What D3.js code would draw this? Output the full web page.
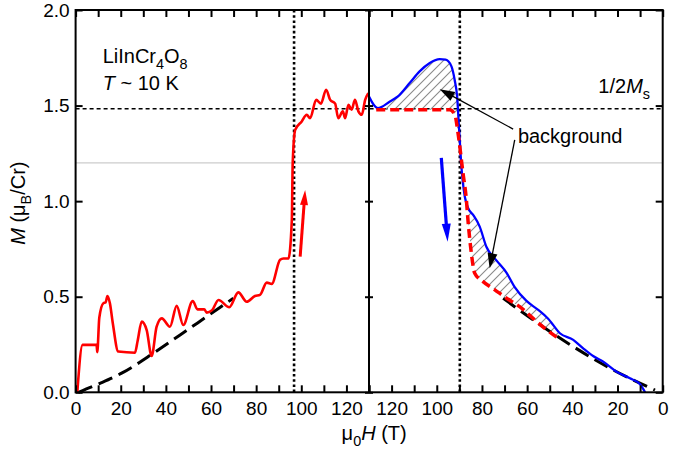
<!DOCTYPE html>
<html>
<head>
<meta charset="utf-8">
<script src="https://cdn.jsdelivr.net/npm/d3@7"></script>
<style>
	body { margin: 0; background: #fff; }
	svg text { font-family: 'Liberation Sans', Arial, Helvetica, sans-serif; fill: #000; }
</style>
</head>
<body>
<div id="chart"></div>
<script>
// field in T, magnetisation in muB/Cr
const upSweep = [
	[0.75, 0], [3.1, 0.248], [9.3, 0.248], [9.6, 0.21], [10.5, 0.39], [12.3, 0.466], [13.3, 0.47],
	[14.1, 0.504], [15.2, 0.466], [16.5, 0.36], [18.9, 0.213], [26.3, 0.207], [27.5, 0.27], [29.3, 0.37],
	[31.5, 0.325], [33.7, 0.19], [35.9, 0.343], [38.2, 0.387], [41.8, 0.343], [44.8, 0.452], [47.7, 0.352],
	[51.9, 0.478], [54, 0.434], [57, 0.434], [58.1, 0.417], [60.5, 0.43], [63.3, 0.483], [68.1, 0.445],
	[72.1, 0.523], [75.8, 0.474], [79.5, 0.504], [81.7, 0.51], [84.7, 0.574], [86.9, 0.567], [90.6, 0.693],
	[92.1, 0.7], [94.3, 0.7], [95.8, 0.9], [96.2, 1.2], [97.3, 1.373], [100.2, 1.417], [102.4, 1.452],
	[103.9, 1.434], [106.6, 1.53], [108.7, 1.51], [111, 1.583], [112.8, 1.53], [115, 1.51], [116.4, 1.434],
	[118.4, 1.47], [119.4, 1.434], [120.9, 1.504], [122.3, 1.478], [123.8, 1.53], [125.3, 1.47],
	[126.8, 1.452], [128.3, 1.53], [129.7, 1.565]
]

const downSweep = [
	[130, 1.548], [126.1, 1.487], [120.9, 1.52], [117.2, 1.548], [112, 1.618], [107.6, 1.679],
	[103.1, 1.723], [98.7, 1.743], [96.1, 1.74], [93.5, 1.705], [92.1, 1.635], [91, 1.548], [90.1, 1.373],
	[89.1, 1.18], [87.6, 1.024], [86.1, 0.963], [83.9, 0.928], [81, 0.867], [78, 0.76], [73.6, 0.69],
	[69.1, 0.625], [65.5, 0.55], [60.3, 0.478], [55.1, 0.431], [50.7, 0.385], [45.5, 0.309],
	[39.6, 0.274], [35.2, 0.23], [30.8, 0.19], [26.3, 0.16], [20.4, 0.108], [14.5, 0.073], [10.1, 0.043],
	[7.8, 0]
]

const background = [
	[126.8, 1.478], [110, 1.478], [94.3, 1.478], [92, 1.452], [90.6, 1.356], [88.4, 1.147], [86.9, 1.007],
	[86.2, 0.902], [84.7, 0.728], [83.2, 0.623], [79.5, 0.579], [74.3, 0.536], [69.1, 0.492],
	[63.3, 0.448], [57.4, 0.387], [52.2, 0.335], [46.3, 0.283]
]

const lowFieldUp = [[1.2, 0], [10.8, 0.047], [20.4, 0.1], [34.4, 0.204], [46.3, 0.3], [58.1, 0.396], [69.9, 0.492]]
const lowFieldDown = [[70.6, 0.492], [57.4, 0.379], [39.6, 0.239], [21.9, 0.117], [3.4, 0.012]]

const fieldTicks = d3.range(0, 131, 10)
const momentTicks = [0, 0.5, 1, 1.5, 2]
const transitionUp = 96.8
const transitionDown = 89.8
const halfSaturation = 1.483
const guideLevel = 1.2

// annotations: [H, M] in the panel they sit in
const upArrow = [[99.5, 0.71], [101.7, 1.058]]
const downArrow = [[98.0, 1.227], [95.2, 0.788]]
const bgArrows = [
	[[66.2, 1.377], [98.7, 1.586]],
	[[65.5, 1.321], [76.6, 0.649]]
]

class SweepChart {
	constructor(params) {
		this.attrs = Object.assign(
			{
				container: '#chart',
				width: 685,
				height: 453,
				plot: { left: 75.6, mid: 369, right: 662.7, top: 10, bottom: 392.3 },
				fieldMax: 130,
				fontSize: 19,
				labelSize: 20,
				colors: {
					up: '#ff0000',
					down: '#0000ff',
					hatch: '#8a8a8a',
					guide: '#cccccc',
				},
			},
			params
		)
		this.main()
	}

	main() {
		const { attrs } = this
		const p = attrs.plot

		this.xL = d3.scaleLinear().domain([0, attrs.fieldMax]).range([p.left, p.mid])
		this.xR = d3.scaleLinear().domain([attrs.fieldMax, 0]).range([p.mid, p.right])
		this.y = d3.scaleLinear().domain([0, 2]).range([p.bottom, p.top])

		this.svg = d3.select(attrs.container)
			.append('svg')
			.attr('width', attrs.width)
			.attr('height', attrs.height)

		const defs = this.svg.append('defs')
		defs.append('pattern')
			.attr('id', 'hatch')
			.attr('patternUnits', 'userSpaceOnUse')
			.attr('width', 9)
			.attr('height', 9)
			.append('path')
			.attr('d', 'M-2,2 L2,-2 M0,9 L9,0 M7,11 L11,7')
			.attr('stroke', attrs.colors.hatch)
			.attr('stroke-width', 1.1)

		this.drawGuides()
		this.drawCurves()
		this.drawAxes()
		this.drawArrows()
		this.drawLabels()
	}

	drawGuides() {
		const { attrs } = this
		const p = attrs.plot
		const g = this.svg.append('g')

		g.append('line')
			.attr('x1', p.left).attr('x2', p.right)
			.attr('y1', this.y(guideLevel)).attr('y2', this.y(guideLevel))
			.attr('stroke', attrs.colors.guide)
			.attr('stroke-width', 1.2)

		g.append('line')
			.attr('x1', p.left).attr('x2', p.right)
			.attr('y1', this.y(halfSaturation)).attr('y2', this.y(halfSaturation))
			.attr('stroke', '#000')
			.attr('stroke-width', 1.5)
			.attr('stroke-dasharray', '4,3')

		const vert = [this.xL(transitionUp), this.xR(transitionDown)]
		g.selectAll('.hc')
			.data(vert)
			.join('line')
			.attr('x1', d => d).attr('x2', d => d)
			.attr('y1', p.top).attr('y2', p.bottom)
			.attr('stroke', '#000')
			.attr('stroke-width', 2.6)
			.attr('stroke-dasharray', '2.6,2.6')
	}

	drawCurves() {
		const { attrs } = this
		const lineL = d3.line().x(d => this.xL(d[0])).y(d => this.y(d[1])).curve(d3.curveMonotoneX)
		const lineR = d3.line().x(d => this.xR(d[0])).y(d => this.y(d[1])).curve(d3.curveMonotoneX)
		const g = this.svg.append('g').attr('fill', 'none')

		// hatched gap between down sweep and background
		const upper = downSweep.filter(d => d[0] <= 126.8 && d[0] >= 45)
		const poly = upper.concat(background.slice().reverse())
		g.append('path')
			.attr('d', d3.line().x(d => this.xR(d[0])).y(d => this.y(d[1]))(poly) + 'Z')
			.attr('fill', 'url(#hatch)')

		g.append('path')
			.attr('d', lineL(lowFieldUp))
			.attr('stroke', '#000')
			.attr('stroke-width', 3)
			.attr('stroke-dasharray', '15,7')

		g.append('path')
			.attr('d', lineR(lowFieldDown))
			.attr('stroke', '#000')
			.attr('stroke-width', 3)
			.attr('stroke-dasharray', '15,7')

		g.append('path')
			.attr('d', lineL(upSweep))
			.attr('stroke', attrs.colors.up)
			.attr('stroke-width', 2.6)
			.attr('stroke-linejoin', 'round')

		g.append('path')
			.attr('d', lineR(downSweep))
			.attr('stroke', attrs.colors.down)
			.attr('stroke-width', 2.3)
			.attr('stroke-linejoin', 'round')

		g.append('path')
			.attr('d', lineR(background))
			.attr('stroke', attrs.colors.up)
			.attr('stroke-width', 3.5)
			.attr('stroke-dasharray', '9,5')
	}

	drawAxes() {
		const { attrs } = this
		const p = attrs.plot
		const fs = attrs.fontSize
		const lab = d => (d % 20 === 0 ? d : '')

		const style = (sel, keepText) => {
			sel.select('.domain').remove()
			sel.selectAll('line').attr('stroke-width', 2)
			sel.selectAll('text').attr('font-size', fs).attr('font-family', null)
			if (!keepText) sel.selectAll('text').remove()
		}

		this.svg.append('g')
			.attr('transform', `translate(0,${p.bottom})`)
			.call(d3.axisBottom(this.xL).tickValues(fieldTicks).tickSizeInner(-7).tickSizeOuter(0).tickPadding(9).tickFormat(lab))
			.call(style, true)
		this.svg.append('g')
			.attr('transform', `translate(0,${p.bottom})`)
			.call(d3.axisBottom(this.xR).tickValues(fieldTicks).tickSizeInner(-7).tickSizeOuter(0).tickPadding(9).tickFormat(lab))
			.call(style, true)
		this.svg.append('g')
			.attr('transform', `translate(0,${p.top})`)
			.call(d3.axisTop(this.xL).tickValues(fieldTicks).tickSizeInner(-7).tickSizeOuter(0))
			.call(style, false)
		this.svg.append('g')
			.attr('transform', `translate(0,${p.top})`)
			.call(d3.axisTop(this.xR).tickValues(fieldTicks).tickSizeInner(-7).tickSizeOuter(0))
			.call(style, false)

		this.svg.append('g')
			.attr('transform', `translate(${p.left},0)`)
			.call(d3.axisLeft(this.y).tickValues(momentTicks).tickSizeInner(-7).tickSizeOuter(0).tickPadding(6).tickFormat(d3.format('.1f')))
			.call(style, true)
		this.svg.append('g')
			.attr('transform', `translate(${p.right},0)`)
			.call(d3.axisRight(this.y).tickValues(momentTicks).tickSizeInner(-7).tickSizeOuter(0))
			.call(style, false)
		this.svg.append('g')
			.attr('transform', `translate(${p.mid},0)`)
			.call(d3.axisLeft(this.y).tickValues(momentTicks).tickSizeInner(4).tickSizeOuter(0))
			.call(style, false)
		this.svg.append('g')
			.attr('transform', `translate(${p.mid},0)`)
			.call(d3.axisRight(this.y).tickValues(momentTicks).tickSizeInner(4).tickSizeOuter(0))
			.call(style, false)

		this.svg.append('rect')
			.attr('x', p.left).attr('y', p.top)
			.attr('width', p.right - p.left).attr('height', p.bottom - p.top)
			.attr('fill', 'none')
			.attr('stroke', '#000')
			.attr('stroke-width', 2)
		this.svg.append('line')
			.attr('x1', p.mid).attr('x2', p.mid)
			.attr('y1', p.top).attr('y2', p.bottom)
			.attr('stroke', '#000')
			.attr('stroke-width', 2)
	}

	arrow(from, to, opts) {
		const dx = to[0] - from[0]
		const dy = to[1] - from[1]
		const len = Math.hypot(dx, dy)
		const ux = dx / len
		const uy = dy / len
		const bx = to[0] - ux * opts.head
		const by = to[1] - uy * opts.head
		const hw = opts.headWidth / 2
		const g = this.svg.append('g')
		g.append('line')
			.attr('x1', from[0]).attr('y1', from[1])
			.attr('x2', bx + ux * 2).attr('y2', by + uy * 2)
			.attr('stroke', opts.color)
			.attr('stroke-width', opts.width)
		g.append('path')
			.attr('d', `M${to[0]},${to[1]}L${bx - uy * hw},${by + ux * hw}L${bx + uy * hw},${by - ux * hw}Z`)
			.attr('fill', opts.color)
	}

	drawArrows() {
		const { attrs } = this
		const ptL = d => [this.xL(d[0]), this.y(d[1])]
		const ptR = d => [this.xR(d[0]), this.y(d[1])]

		this.arrow(ptL(upArrow[0]), ptL(upArrow[1]), { color: attrs.colors.up, width: 3, head: 15, headWidth: 8 })
		this.arrow(ptR(downArrow[0]), ptR(downArrow[1]), { color: attrs.colors.down, width: 3.2, head: 18, headWidth: 9 })
		bgArrows.forEach(a => {
			this.arrow(ptR(a[0]), ptR(a[1]), { color: '#000', width: 1.3, head: 15, headWidth: 10 })
		})
	}

	richText(x, y, parts, anchor, size) {
		const fs = size || this.attrs.labelSize
		const t = this.svg.append('text')
			.attr('x', x)
			.attr('y', y)
			.attr('font-size', fs)
			.attr('text-anchor', anchor || 'start')
		let shift = 0
		parts.forEach(part => {
			const target = part.sub ? fs * 0.3 : 0
			const span = t.append('tspan').text(part.t).attr('dy', target - shift)
			shift = target
			if (part.sub) span.attr('font-size', fs * 0.72)
			if (part.it) span.style('font-style', 'italic')
		})
		return t
	}

	drawLabels() {
		const { attrs } = this
		const p = attrs.plot

		this.richText(this.xL(12), this.y(1.724), [
			{ t: 'LiInCr' }, { t: '4', sub: true }, { t: 'O' }, { t: '8', sub: true },
		])
		this.richText(this.xL(12), this.y(1.583), [{ t: 'T', it: true }, { t: ' ~ 10 K' }])
		this.richText(this.xR(5.6), this.y(1.565), [
			{ t: '1/2' }, { t: 'M', it: true }, { t: 's', sub: true },
		], 'end')
		this.richText(this.xR(64.1), this.y(1.305), [{ t: 'background' }])

		this.richText((p.left + p.right) / 2 + 5, 440, [
			{ t: 'μ' }, { t: '0', sub: true }, { t: 'H', it: true }, { t: ' (T)' },
		], 'middle')

		this.richText(0, 0, [
			{ t: 'M', it: true }, { t: ' (μ' }, { t: 'B', sub: true }, { t: '/Cr)' },
		], 'middle').attr('transform', `translate(25,${(p.top + p.bottom) / 2 + 2}) rotate(-90)`)
	}
}

new SweepChart({})
</script>
</body>
</html>
